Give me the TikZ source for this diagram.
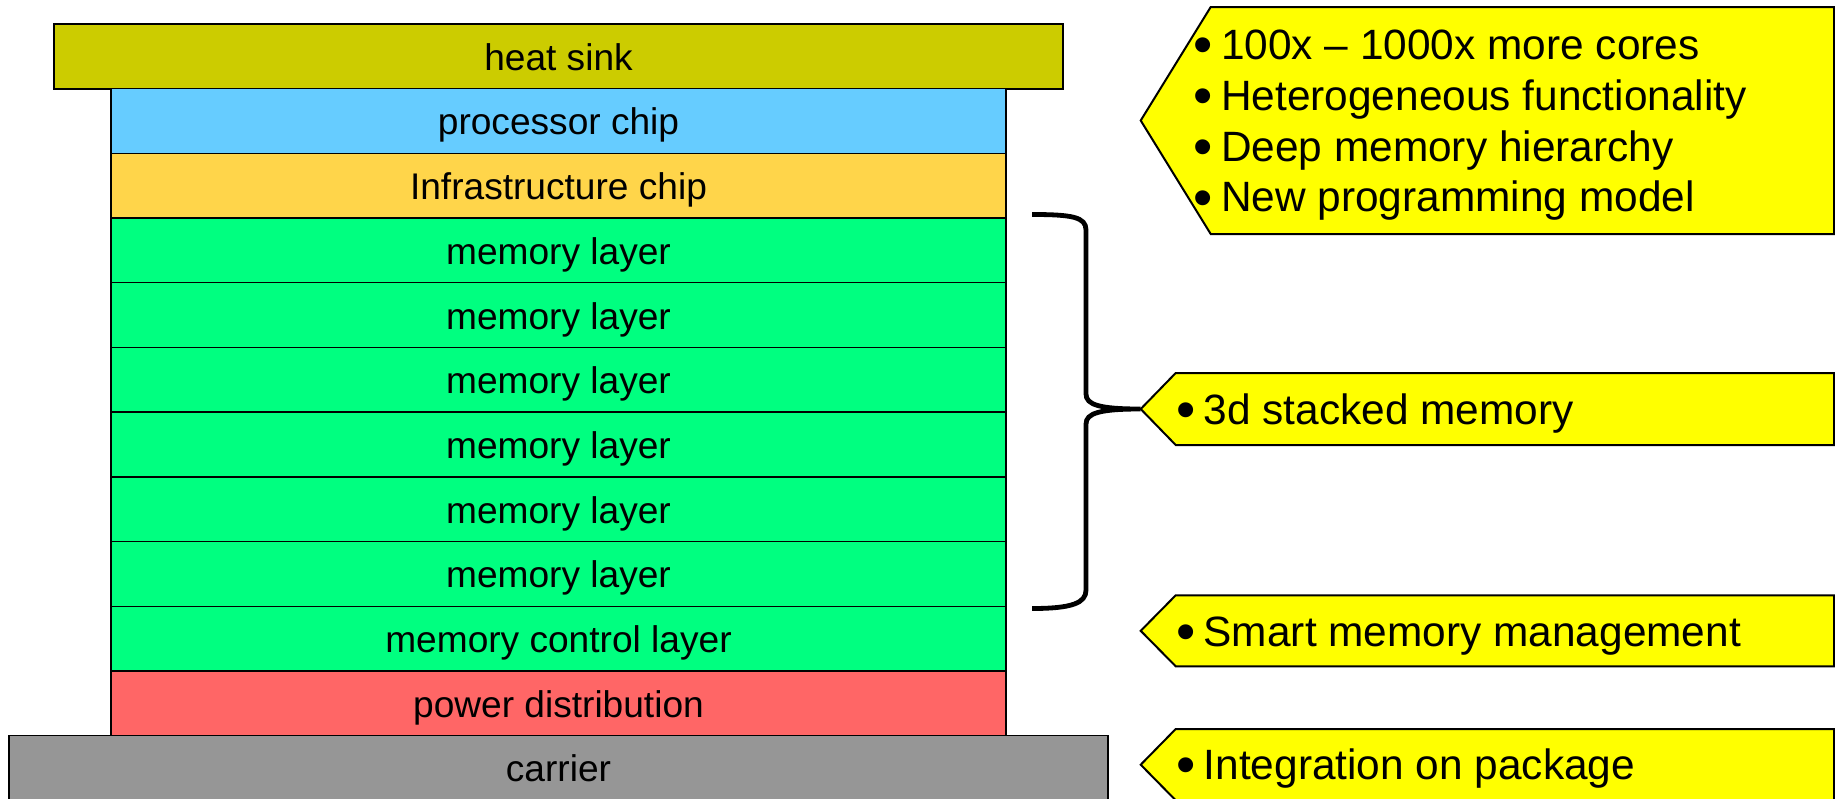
\documentclass[tikz,border=0pt]{standalone}
\usepackage{fontspec}
\setmainfont{Liberation Sans}
\definecolor{hsink}{HTML}{CCCC00}
\definecolor{proc}{HTML}{66CCFF}
\definecolor{infra}{HTML}{FFD54A}
\definecolor{memc}{HTML}{00FF80}
\definecolor{powerc}{HTML}{FF6666}
\definecolor{carrierc}{HTML}{969696}
\definecolor{notec}{HTML}{FFFF00}
\tikzset{
  layer/.style={draw=black, line width=0.7pt, minimum width=447.5pt, minimum height=32.35pt,
    inner sep=0pt, text height=14pt, text depth=0pt, font=\fontsize{18.55pt}{20pt}\selectfont},
  callout/.style={draw=black, fill=notec, line width=1pt, line join=miter},
  notetext/.style={anchor=base west, inner sep=0pt, font=\fontsize{21.2pt}{24pt}\selectfont},
  bracepath/.style={draw=black, line width=2.4pt}
}
\newcommand{\bul}{\llap{\makebox[18pt][c]{\raisebox{-2.2pt}{\fontsize{27.5pt}{27.5pt}\selectfont •}}}}
\begin{document}
\begin{tikzpicture}[x=0.5pt,y=-0.5pt]
\useasboundingbox (0,0) rectangle (1835,798);
\fill[white] (0,0) rectangle (1835,798);
% stack
\node[layer, fill=hsink, minimum width=504.5pt, minimum height=32.15pt, line width=1pt] (hs) at (558.5,56.45) {heat sink};
\node[layer, fill=proc] (proc) at (558.5,120.95) {processor chip};
\node[layer, fill=infra] (infra) at (558.5,185.65) {Infrastructure chip};
\node[layer, fill=memc] (m1) at (558.5,250.35) {memory layer};
\node[layer, fill=memc] (m2) at (558.5,315.05) {memory layer};
\node[layer, fill=memc] (m3) at (558.5,379.75) {memory layer};
\node[layer, fill=memc] (m4) at (558.5,444.45) {memory layer};
\node[layer, fill=memc] (m5) at (558.5,509.15) {memory layer};
\node[layer, fill=memc] (m6) at (558.5,573.85) {memory layer};
\node[layer, fill=memc] (ctrl) at (558.5,638.55) {memory control layer};
\node[layer, fill=powerc] (pw) at (558.5,703.25) {power distribution};
\node[layer, fill=carrierc, minimum width=549.5pt] (car) at (558.5,767.95) {carrier};
% callouts
\coordinate (tip1) at (1140.7,120.5);
\coordinate (tip2) at (1140.7,409);
\coordinate (tip3) at (1140.7,630.8);
\coordinate (tip4) at (1140.7,764.7);
\draw[callout] (tip1) -- (1210.7,7) -- (1834,7) -- (1834,234) -- (1210.7,234) -- cycle;
\draw[callout] (tip2) -- (1175.7,373) -- (1834,373) -- (1834,445) -- (1175.7,445) -- cycle;
\draw[callout] (tip3) -- (1175.7,595.3) -- (1834,595.3) -- (1834,666.3) -- (1175.7,666.3) -- cycle;
\draw[callout] (tip4) -- (1175.7,729) -- (1834,729) -- (1834,800.3) -- (1175.7,800.3) -- cycle;
\node[notetext] (n1a) at (1220.7,59.3) {\bul 100x – 1000x more cores};
\node[notetext] (n1b) at (1220.7,110) {\bul Heterogeneous functionality};
\node[notetext] (n1c) at (1220.7,161) {\bul Deep memory hierarchy};
\node[notetext] (n1d) at (1220.7,211.7) {\bul New programming model};
\node[notetext] (n2) at (1203.3,424) {\bul 3d stacked memory};
\node[notetext] (n3) at (1203.3,646.3) {\bul Smart memory management};
\node[notetext] (n4) at (1203.3,779) {\bul Integration on package};
% brace
\coordinate (bt) at (1032,214.5);
\coordinate (bb) at (1032,608.5);
\draw[bracepath] (bt) .. controls (1072,214.5) and (1086,217) .. (1086,230)
  -- (1086,394) .. controls (1086,405) and (1100,409) .. (tip2)
  .. controls (1100,409) and (1086,413) .. (1086,424)
  -- (1086,590) .. controls (1086,603) and (1072,608.5) .. (bb);
\end{tikzpicture}
\end{document}
